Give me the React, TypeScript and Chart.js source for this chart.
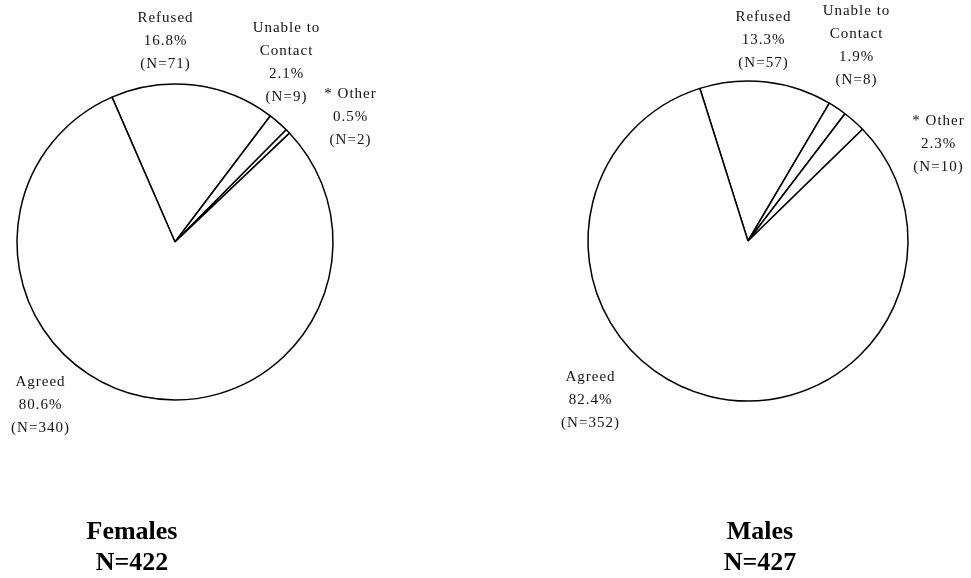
import React, { useEffect, useRef } from "react";
import { Chart, registerables } from "chart.js";

Chart.register(...registerables);

// ---- data ----
const categories = ["Refused", "Unable to Contact", "* Other", "Agreed"];
const categoryLines = [["Refused"], ["Unable to", "Contact"], ["* Other"], ["Agreed"]];
const femaleCounts = [71, 9, 2, 340];
const maleCounts = [57, 8, 10, 352];
const femaleTitle = ["Females", "N=422"];
const maleTitle = ["Males", "N=427"];

// ---- layout (page coordinates) ----
const FEMALE_LAYOUT = {
  left: 0,
  width: 460,
  cx: 175,
  cy: 242,
  r: 158,
  rotation: -23.5,
  labels: [
    [165, 18],
    [286, 28],
    [350, 94],
    [40, 382],
  ],
  title: [132, 532],
};
const MALE_LAYOUT = {
  left: 460,
  width: 511,
  cx: 748,
  cy: 241,
  r: 160,
  rotation: -17.5,
  labels: [
    [763, 17],
    [856, 11],
    [938, 121],
    [590, 377],
  ],
  title: [760, 532],
};

const H = 578;
const BORDER = 1.5;
const LINE_H = 23;

type Layout = typeof FEMALE_LAYOUT;

function PieChart({ counts, title, layout }: { counts: number[]; title: string[]; layout: Layout }) {
  const ref = useRef<HTMLCanvasElement | null>(null);
  useEffect(() => {
    if (!ref.current) return;
    const total = counts.reduce((a, b) => a + b, 0);
    const size = 2 * layout.r + BORDER;
    const localCx = layout.cx - layout.left;
    const padLeft = localCx - size / 2;
    const padTop = layout.cy - size / 2;
    const padRight = layout.width - padLeft - size;
    const padBottom = H - padTop - size;

    const labelPlugin = {
      id: "pieLabels",
      afterDraw(chart: any) {
        const ctx = chart.ctx as CanvasRenderingContext2D;
        ctx.save();
        ctx.fillStyle = "#111";
        ctx.textAlign = "center";
        ctx.textBaseline = "middle";
        ctx.font = '15px "Liberation Serif", "Times New Roman", serif';
        (ctx as any).letterSpacing = "1px";
        counts.forEach((c, i) => {
          const pct = ((c / total) * 100).toFixed(1) + "%";
          const lines = [...categoryLines[i], pct, `(N=${c})`];
          const [x, y] = layout.labels[i];
          lines.forEach((ln, j) => {
            ctx.fillText(ln, x - layout.left + 0.5, y + j * LINE_H);
          });
        });
        (ctx as any).letterSpacing = "0px";
        ctx.fillStyle = "#000";
        ctx.font = 'bold 26px "Liberation Serif", "Times New Roman", serif';
        title.forEach((t, j) => {
          ctx.fillText(t, layout.title[0] - layout.left, layout.title[1] + j * 31);
        });
        ctx.restore();
      },
    };

    const chart = new Chart(ref.current, {
      type: "pie",
      data: {
        labels: categories,
        datasets: [
          {
            data: counts,
            backgroundColor: "#ffffff",
            borderColor: "#000000",
            borderWidth: BORDER,
            hoverOffset: 0,
          },
        ],
      },
      options: {
        animation: false,
        responsive: false,
        devicePixelRatio: 1,
        rotation: layout.rotation,
        layout: {
          padding: { left: padLeft, top: padTop, right: padRight, bottom: padBottom },
        },
        plugins: {
          legend: { display: false },
          tooltip: { enabled: false },
          title: { display: false },
        },
        events: [],
      },
      plugins: [labelPlugin],
    });
    return () => chart.destroy();
  }, [counts, title, layout]);

  return (
    <canvas
      ref={ref}
      width={layout.width}
      height={H}
      style={{
        position: "absolute",
        left: layout.left,
        top: 0,
        width: layout.width,
        height: H,
        display: "block",
      }}
    />
  );
}

export default function App() {
  return (
    <div
      style={{
        position: "fixed",
        left: 0,
        top: 0,
        width: 971,
        height: H,
        background: "#ffffff",
        overflow: "hidden",
      }}
    >
      <PieChart counts={femaleCounts} title={femaleTitle} layout={FEMALE_LAYOUT} />
      <PieChart counts={maleCounts} title={maleTitle} layout={MALE_LAYOUT} />
    </div>
  );
}
